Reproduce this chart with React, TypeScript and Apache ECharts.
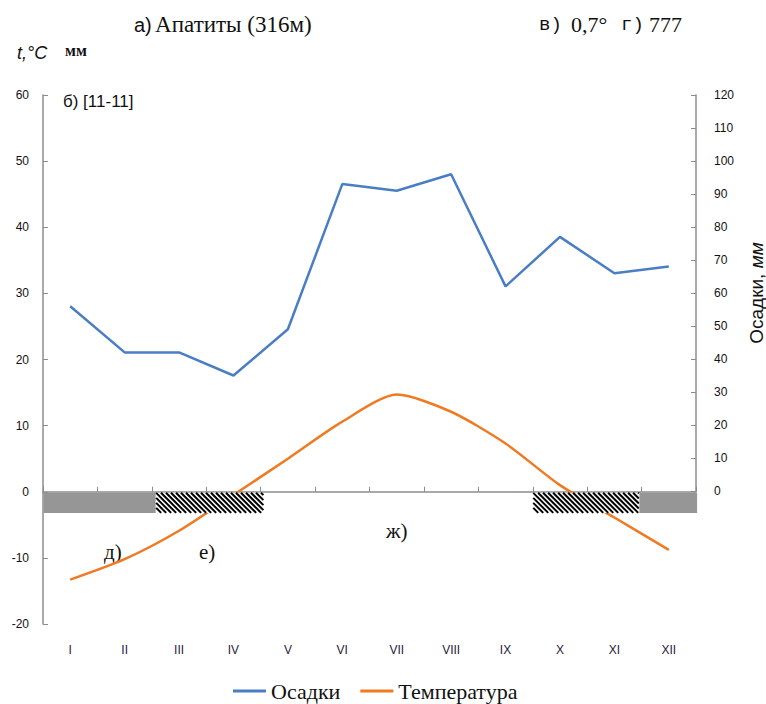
import React, { useEffect, useRef } from "react";
import * as echarts from "echarts";

const months = ["I", "II", "III", "IV", "V", "VI", "VII", "VIII", "IX", "X", "XI", "XII"];
const precipitation = [56, 42, 42, 35, 49, 93, 91, 96, 62, 77, 66, 68];
const temperature = [-13.3, -10.2, -5.9, -0.5, 5.0, 10.6, 14.7, 12.1, 7.3, 1.0, -3.9, -8.8];
const tempAxis = { min: -20, max: 60, interval: 10 };
const precAxis = { min: 0, max: 120, interval: 10 };
// bands below zero line (in month units from Jan 1)
const bandStart = [0, 2.07, 9.0, 10.95];
const bandEnd = [2.07, 4.05, 10.95, 12.02];
const bandKind = [0, 1, 1, 0]; // 0 = grey fill, 1 = hatch
const bandDepth = -3.2;

const SERIF = "'Liberation Serif', 'Times New Roman', serif";
const SANS = "'Liberation Sans', Arial, sans-serif";
const MONO = "'Liberation Mono', 'Courier New', monospace";

export default function App() {
  const ref = useRef<HTMLDivElement>(null);
  useEffect(() => {
    if (!ref.current) return;
    const chart = echarts.init(ref.current, undefined, { renderer: "svg" });
    const axisGray = "#8c8c8c";
    const bandData = bandStart.map((s, i) => [s, bandEnd[i], 0, bandDepth, bandKind[i]]);
    chart.setOption({
      animation: false,
      backgroundColor: "#fff",
      grid: [
        { left: 43, right: 70, top: 95, bottom: 80, containLabel: false, outerBoundsMode: "none" },
        { left: 43, right: 70, top: 95, bottom: 213, containLabel: false, outerBoundsMode: "none" },
      ],
      legend: {
        top: 675,
        left: 228,
        itemWidth: 33,
        itemHeight: 3,
        itemGap: 20,
        textStyle: { fontFamily: SERIF, fontSize: 22, color: "#111" },
        data: [
          { name: "Осадки", icon: "rect" },
          { name: "Температура", icon: "rect" },
        ],
      },
      xAxis: [
        {
          gridIndex: 0,
          type: "category",
          data: months,
          boundaryGap: true,
          axisLine: { show: true, onZero: true, lineStyle: { color: axisGray, width: 1.5 } },
          axisTick: { show: true, inside: true, length: 5, lineStyle: { color: axisGray } },
          axisLabel: { show: false },
          splitLine: { show: false },
        },
        {
          gridIndex: 0,
          type: "category",
          data: months,
          position: "bottom",
          axisLine: { show: false, onZero: false },
          axisTick: { show: false },
          axisLabel: { margin: 20, fontSize: 12, fontFamily: SANS, color: "#2a2040" },
          splitLine: { show: false },
        },
        { gridIndex: 0, type: "value", min: 0, max: 12, show: false },
        { gridIndex: 1, type: "category", data: months, boundaryGap: true, show: false },
      ],
      yAxis: [
        {
          gridIndex: 0,
          type: "value",
          position: "left",
          min: tempAxis.min,
          max: tempAxis.max,
          interval: tempAxis.interval,
          axisLine: { show: true, lineStyle: { color: axisGray, width: 1.5 } },
          axisTick: { show: true, inside: true, length: 5, lineStyle: { color: axisGray } },
          axisLabel: { margin: 14, fontSize: 12, fontFamily: SANS, color: "#111" },
          splitLine: { show: false },
        },
        {
          gridIndex: 1,
          type: "value",
          position: "right",
          min: precAxis.min,
          max: precAxis.max,
          interval: precAxis.interval,
          axisLine: { show: true, lineStyle: { color: axisGray, width: 1.5 } },
          axisTick: { show: true, inside: true, length: 5, lineStyle: { color: axisGray } },
          axisLabel: { margin: 18, fontSize: 12, fontFamily: SANS, color: "#111" },
          splitLine: { show: false },
          name: "{a|Осадки, }{b|мм}",
          nameLocation: "middle",
          nameRotate: 90,
          nameGap: 51,
          nameTextStyle: {
            rich: {
              a: { fontFamily: SANS, fontSize: 19, color: "#111" },
              b: { fontFamily: SANS, fontSize: 19, fontStyle: "italic", color: "#111" },
            },
          },
        },
      ],
      series: [
        {
          name: "Осадки",
          type: "line",
          xAxisIndex: 3,
          yAxisIndex: 1,
          data: precipitation,
          symbol: "none",
          lineStyle: { color: "#4a7ec4", width: 2.5 },
          itemStyle: { color: "#4a7ec4" },
          z: 3,
        },
        {
          name: "Температура",
          type: "line",
          xAxisIndex: 0,
          yAxisIndex: 0,
          data: temperature,
          symbol: "none",
          smooth: 0.25,
          lineStyle: { color: "#ef7a22", width: 2.5 },
          itemStyle: { color: "#ef7a22" },
          z: 3,
        },
        {
          type: "custom",
          xAxisIndex: 2,
          yAxisIndex: 0,
          clip: false,
          z: 5,
          silent: true,
          encode: { x: [0, 1], y: [2, 3] },
          data: bandData,
          renderItem: (params: any, api: any) => {
            const s = api.value(0);
            const e = api.value(1);
            const kind = api.value(4);
            const p0 = api.coord([s, api.value(2)]);
            const p1 = api.coord([e, api.value(3)]);
            const x0 = p0[0] + 0.5;
            const y0 = p0[1] + 1;
            const x1 = p1[0];
            const y1 = p1[1];
            if (kind === 0) {
              return {
                type: "rect",
                shape: { x: x0, y: y0, width: x1 - x0, height: y1 - y0 },
                style: { fill: "#969696" },
              };
            }
            const h = y1 - y0;
            const period = 5;
            const children: any[] = [
              {
                type: "rect",
                shape: { x: x0, y: y0, width: x1 - x0, height: h },
                style: { fill: "#fff" },
              },
            ];
            for (let c = x0 - h; c < x1; c += period) {
              let sx = c;
              let sy = y0;
              let ex = c + h;
              let ey = y1;
              if (sx < x0) {
                sy = y0 + (x0 - sx);
                sx = x0;
              }
              if (ex > x1) {
                ey = y1 - (ex - x1);
                ex = x1;
              }
              if (ex > sx) {
                children.push({
                  type: "line",
                  shape: { x1: sx, y1: sy, x2: ex, y2: ey },
                  style: { stroke: "#000", lineWidth: 2 },
                });
              }
            }
            return { type: "group", children };
          },
        },
      ],
      graphic: [
        {
          type: "text",
          left: 134,
          top: 13,
          style: {
            text: "{a|а)} {b|Апатиты (316м)}",
            rich: {
              a: { fontFamily: SANS, fontSize: 20, fill: "#111" },
              b: { fontFamily: SERIF, fontSize: 23, fill: "#111" },
            },
          },
        },
        {
          type: "text",
          left: 539,
          top: 15,
          style: { text: "в)", fontFamily: MONO, fontSize: 19, fill: "#111" },
        },
        {
          type: "text",
          left: 571,
          top: 13,
          style: { text: "0,7°", fontFamily: SERIF, fontSize: 22, fill: "#111" },
        },
        {
          type: "text",
          left: 621,
          top: 15,
          style: { text: "г)", fontFamily: MONO, fontSize: 19, fill: "#111" },
        },
        {
          type: "text",
          left: 649,
          top: 13,
          style: { text: "777", fontFamily: SERIF, fontSize: 22, fill: "#111" },
        },
        {
          type: "text",
          left: 17,
          top: 44,
          style: { text: "t,°C", fontFamily: SANS, fontStyle: "italic", fontSize: 18, fill: "#111" },
        },
        {
          type: "text",
          left: 65,
          top: 42,
          style: { text: "мм", fontFamily: SERIF, fontWeight: "bold", fontSize: 16, fill: "#111" },
        },
        {
          type: "text",
          left: 63,
          top: 93,
          style: { text: "б) [11-11]", fontFamily: SANS, fontSize: 17, fill: "#111" },
        },
        {
          type: "text",
          left: 104,
          top: 541,
          style: { text: "д)", fontFamily: SERIF, fontSize: 21, fill: "#111" },
        },
        {
          type: "text",
          left: 199,
          top: 541,
          style: { text: "е)", fontFamily: SERIF, fontSize: 21, fill: "#111" },
        },
        {
          type: "text",
          left: 386,
          top: 520,
          style: { text: "ж)", fontFamily: SERIF, fontSize: 21, fill: "#111" },
        },
      ],
    });
    return () => chart.dispose();
  }, []);
  return (
    <div
      ref={ref}
      style={{ position: "fixed", left: 0, top: 0, width: 766, height: 704, background: "#fff" }}
    />
  );
}
